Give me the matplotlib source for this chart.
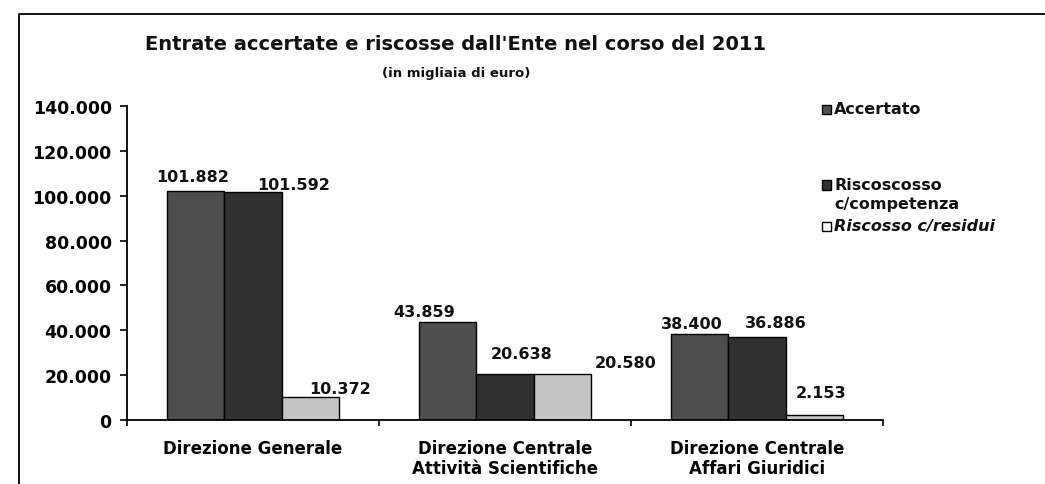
import matplotlib
matplotlib.use("Agg")
import matplotlib.pyplot as plt
from matplotlib.patches import Rectangle
from matplotlib.lines import Line2D
import numpy as np

# ---- data ----
categories = ["Direzione Generale",
              "Direzione Centrale\nAttività Scientifiche",
              "Direzione Centrale\nAffari Giuridici"]
series_names = ["Accertato", "Riscoscosso\nc/competenza", "Riscosso c/residui"]
accertato = [101882, 43859, 38400]
risc_competenza = [101592, 20638, 36886]
risc_residui = [10372, 20580, 2153]
yticks = [0, 20000, 40000, 60000, 80000, 100000, 120000, 140000]

title = "Entrate accertate e riscosse dall'Ente nel corso del 2011"
subtitle = "(in migliaia di euro)"

# ---- styling ----
W, H = 1045, 485
colors = ["#4e4e4e", "#303030", "#c4c4c4"]
# label offsets in pixels (dx, dy above bar top) per series, per category
label_offsets = [
    [(-3, 15), (-24, 10), (-8, 10)],
    [(41, 8), (17, 20), (19, 15)],
    [(30, 8), (63, 11), (7, 23)],
]

def fmt(v):
    return f"{v:,}".replace(",", ".")

fig = plt.figure(figsize=(W / 100, H / 100), dpi=100)
fig.patch.set_facecolor("white")

def fx(x):
    return x / W

def fy(y):
    return 1 - y / H

ax = fig.add_axes([fx(127), fy(421), fx(883) - fx(127), fy(107) - fy(421)])

series = [accertato, risc_competenza, risc_residui]
bw = 0.227
x = np.arange(len(categories))
for i, vals in enumerate(series):
    xs = x + (i - 1) * bw
    ax.bar(xs, vals, width=bw, color=colors[i], edgecolor="black",
           linewidth=1.0, zorder=2)
    for j, v in enumerate(vals):
        dx, dy = label_offsets[i][j]
        ax.annotate(fmt(v), xy=(xs[j], v), xytext=(dx, dy),
                    textcoords="offset pixels", ha="center", va="center",
                    fontsize=11.5, fontweight="bold", color="#111111")

ax.set_xlim(-0.5, len(categories) - 0.5)
ax.set_ylim(0, 140000)
ax.set_yticks(yticks)
ax.set_yticklabels([fmt(t) for t in yticks], fontsize=12.5, fontweight="bold")
ax.set_xticks(x)
ax.set_xticklabels(categories, fontsize=12, fontweight="bold", linespacing=1.12)
ax.set_xticks(np.arange(-0.5, len(categories), 1.0), minor=True)
ax.tick_params(axis="x", which="major", length=0, pad=14)
ax.tick_params(axis="x", which="minor", length=4, width=1.2, direction="out")
ax.tick_params(axis="y", length=5, width=1.2, direction="out", pad=6)
for s in ["top", "right"]:
    ax.spines[s].set_visible(False)
for s in ["left", "bottom"]:
    ax.spines[s].set_linewidth(1.3)

# title
fig.text(fx(456), fy(45), title, ha="center", va="center",
         fontsize=14, fontweight="bold", color="#111111")
fig.text(fx(456), fy(73), subtitle, ha="center", va="center",
         fontsize=9.5, fontweight="bold", color="#111111")

# legend (manual)
leg_y = [110, 186, 227]
leg_style = ["normal", "normal", "italic"]
for i, name in enumerate(series_names):
    y = leg_y[i]
    fig.patches.append(Rectangle((fx(822), fy(y + 4.5)), fx(9), 9 / H,
                                 transform=fig.transFigure,
                                 facecolor=colors[i] if i < 2 else "white",
                                 edgecolor="black", linewidth=1.0))
    for k, line in enumerate(name.split("\n")):
        fig.text(fx(834), fy(y + 19 * k), line, ha="left", va="center",
                 fontsize=11.5, fontweight="bold", style=leg_style[i],
                 color="#111111")

# frame (left and top only)
fig.add_artist(Line2D([fx(19), fx(19), 1.0],
                      [0, fy(15), fy(15)],
                      transform=fig.transFigure, color="black", linewidth=1.3))

fig.savefig("out.png", dpi=100, facecolor="white")
